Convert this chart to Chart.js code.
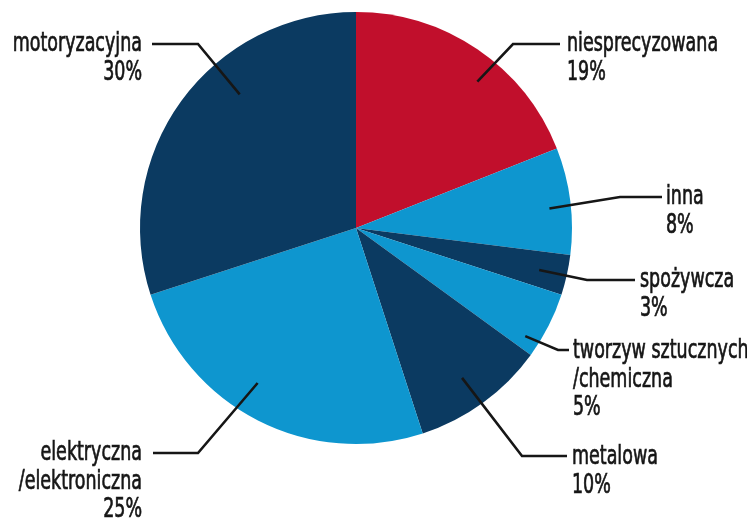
<!DOCTYPE html>
<html>
<head>
<meta charset="utf-8">
<script src="https://cdn.jsdelivr.net/npm/chart.js@4"></script>
<style>
    html, body { margin: 0; padding: 0; background: #fff; }
    #wrap { width: 747px; height: 523px; }
</style>
</head>
<body>
<div id="wrap"><canvas id="pieChart" width="747" height="523"></canvas></div>
<script>
// Branches, clockwise from 12 o'clock
const categories = [
    'niesprecyzowana',
    'inna',
    'spożywcza',
    'tworzyw sztucznych\n/chemiczna',
    'metalowa',
    'elektryczna\n/elektroniczna',
    'motoryzacyjna'
];
const shares = [19, 8, 3, 5, 10, 25, 30];

const RED = '#c10f2c';
const LIGHT = '#0e96cf';
const NAVY = '#0b3a61';
const sliceColors = [RED, LIGHT, NAVY, LIGHT, NAVY, LIGHT, NAVY];

// Leader lines: where they start inside the slice (fraction of the arc / radius),
// the elbow, the end next to the text, and where the text goes
const callouts = [
    { t: 0.58, r: 0.88, elbow: [513, 44], end: [560, 44], text: [567, 44], align: 'left' },
    { t: 0.55, r: 0.90, elbow: [620, 197], end: [662, 197], text: [666, 197], align: 'left' },
    { t: 0.53, r: 0.87, elbow: [587, 280], end: [635, 280], text: [640, 280], align: 'left' },
    { t: 0.81, r: 0.93, elbow: [558, 350], end: [569, 350], text: [573, 351], align: 'left' },
    { t: 0.52, r: 0.85, elbow: [522, 456], end: [567, 456], text: [572, 457], align: 'left' },
    { t: 0.56, r: 0.85, elbow: [198, 453], end: [153, 453], text: [142, 453], align: 'right' },
    { t: 0.62, r: 0.82, elbow: [198, 44], end: [152, 44], text: [142, 44], align: 'right' }
];

const FONT = '27px "Liberation Sans Narrow", "DejaVu Sans Condensed", "Roboto", sans-serif';
const SQUEEZE = 0.72;
const LINE_H = 28.5;

const calloutPlugin = {
    id: 'callouts',
    afterDraw(chart) {
        const ctx = chart.ctx;
        const arcs = chart.getDatasetMeta(0).data;
        ctx.save();
        arcs.forEach((arc, i) => {
            const c = callouts[i];
            const p = arc.getProps(['x', 'y', 'startAngle', 'endAngle', 'outerRadius'], true);
            const a = p.startAngle + c.t * (p.endAngle - p.startAngle);
            const sx = p.x + Math.cos(a) * p.outerRadius * c.r;
            const sy = p.y + Math.sin(a) * p.outerRadius * c.r;

            ctx.strokeStyle = '#161616';
            ctx.lineWidth = 2.6;
            ctx.lineJoin = 'miter';
            ctx.beginPath();
            ctx.moveTo(sx, sy);
            ctx.lineTo(c.elbow[0], c.elbow[1]);
            ctx.lineTo(c.end[0], c.end[1]);
            ctx.stroke();

            // text a touch heavier than the regular weight
            const lines = categories[i].split('\n').concat(shares[i] + '%');
            ctx.fillStyle = '#161616';
            ctx.strokeStyle = '#161616';
            ctx.lineWidth = 0.7;
            ctx.font = FONT;
            ctx.textAlign = c.align;
            ctx.textBaseline = 'middle';
            lines.forEach((txt, k) => {
                ctx.save();
                ctx.translate(c.text[0], c.text[1] + k * LINE_H);
                ctx.scale(SQUEEZE, 1);
                ctx.fillText(txt, 0, 0);
                ctx.strokeText(txt, 0, 0);
                ctx.restore();
            });
        });
        ctx.restore();
    }
};

new Chart(document.getElementById('pieChart'), {
    type: 'pie',
    data: {
        labels: categories,
        datasets: [{
            data: shares,
            backgroundColor: sliceColors,
            borderWidth: 0
        }]
    },
    options: {
        responsive: false,
        animation: false,
        layout: {
            padding: { left: 140, right: 175, top: 11, bottom: 78 }
        },
        plugins: {
            legend: { display: false },
            tooltip: { enabled: false }
        }
    },
    plugins: [calloutPlugin]
});
</script>
</body>
</html>
